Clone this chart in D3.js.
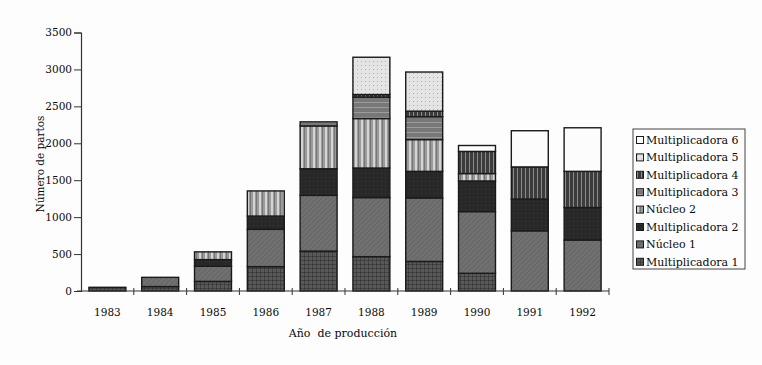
<!DOCTYPE html>
<html>
<head>
<meta charset="utf-8">
<script src="https://cdn.jsdelivr.net/npm/d3@7"></script>
<style>
  html, body { margin: 0; padding: 0; background: #fdfdfd; }
  svg { display: block; }
  text { font-family: "DejaVu Serif", "Liberation Serif", serif; fill: #0a0a0a; }
</style>
</head>
<body>
<svg id="chart" width="762" height="365"></svg>
<script>
// ---- data ----
const years = ["1983","1984","1985","1986","1987","1988","1989","1990","1991","1992"];
const seriesNames = ["Multiplicadora 1","Núcleo 1","Multiplicadora 2","Núcleo 2",
                     "Multiplicadora 3","Multiplicadora 4","Multiplicadora 5","Multiplicadora 6"];
const multiplicadora1 = [50, 60, 130, 330, 540, 465, 400, 240, 0, 0];
const nucleo1         = [0, 125, 205, 505, 755, 800, 860, 835, 815, 690];
const multiplicadora2 = [0, 0, 90, 180, 360, 400, 360, 415, 430, 440];
const nucleo2         = [0, 0, 105, 340, 580, 670, 430, 100, 0, 0];
const multiplicadora3 = [0, 0, 0, 0, 55, 290, 310, 0, 0, 0];
const multiplicadora4 = [0, 0, 0, 0, 0, 35, 75, 300, 435, 490];
const multiplicadora5 = [0, 0, 0, 0, 0, 505, 530, 0, 0, 0];
const multiplicadora6 = [0, 0, 0, 0, 0, 0, 0, 80, 490, 590];
const yTicks = [0, 500, 1000, 1500, 2000, 2500, 3000, 3500];
const xTitle = "Año  de producción";
const yTitle = "Número de partos";

const seriesValues = [multiplicadora1, nucleo1, multiplicadora2, nucleo2,
                      multiplicadora3, multiplicadora4, multiplicadora5, multiplicadora6];
const table = years.map((yr, i) => {
  const row = { year: yr };
  seriesNames.forEach((s, k) => row[s] = seriesValues[k][i]);
  return row;
});

const svg = d3.select("#chart");
const defs = svg.append("defs");

// ---- grayscale textures ----
function pat(id, w, h, bg, draw) {
  const p = defs.append("pattern").attr("id", id).attr("patternUnits", "userSpaceOnUse")
    .attr("width", w).attr("height", h);
  p.append("rect").attr("width", w).attr("height", h).attr("fill", bg);
  draw(p);
}
pat("p0", 4, 4, "#595959", p => {
  p.append("path").attr("d", "M0,0H4M0,0V4").attr("stroke", "#2a2a2a").attr("stroke-width", 1);
});
pat("p1", 5, 5, "#707070", p => {
  p.append("path").attr("d", "M0,5L5,0").attr("stroke", "#606060").attr("stroke-width", 0.8);
});
pat("p2", 4, 4, "#282828", p => {
  p.append("rect").attr("x", 1).attr("y", 1).attr("width", 1).attr("height", 1).attr("fill", "#3a3a3a");
});
pat("p3", 6, 6, "#9a9a9a", p => {
  p.append("rect").attr("x", 1).attr("width", 2).attr("height", 6).attr("fill", "#d4d4d4");
  p.append("rect").attr("x", 4).attr("width", 1).attr("height", 6).attr("fill", "#777");
});
pat("p4", 6, 5, "#787878", p => {
  p.append("rect").attr("y", 2).attr("width", 6).attr("height", 1).attr("fill", "#9c9c9c");
});
pat("p5", 4, 4, "#3c3c3c", p => {
  p.append("rect").attr("x", 1).attr("width", 1).attr("height", 4).attr("fill", "#8a8a8a");
});
pat("p6", 4, 4, "#e4e4e4", p => {
  p.append("rect").attr("x", 1).attr("y", 1).attr("width", 1).attr("height", 1).attr("fill", "#b0b0b0");
});
pat("p7", 4, 4, "#fcfcfc", p => {});

const fillOf = d3.scaleOrdinal().domain(seriesNames).range(seriesNames.map((_, i) => `url(#p${i})`));

// ---- scales ----
const x = d3.scaleBand().domain(years).range([81, 609]).paddingInner(0.3).paddingOuter(0.15);
const y = d3.scaleLinear().domain([0, 3500]).range([291, 32.5]);

const layers = d3.stack().keys(seriesNames)(table);

// ---- bars ----
svg.append("g").selectAll("g").data(layers).join("g")
  .attr("fill", d => fillOf(d.key))
  .selectAll("rect").data(d => d.filter(s => s[1] - s[0] > 0)).join("rect")
  .attr("x", d => x(d.data.year))
  .attr("width", x.bandwidth())
  .attr("y", d => y(d[1]))
  .attr("height", d => y(d[0]) - y(d[1]))
  .attr("stroke", "#1a1a1a")
  .attr("stroke-width", 1.4);

// ---- y axis ----
const yAxis = svg.append("g").attr("transform", "translate(81,0)")
  .call(d3.axisLeft(y).tickValues(yTicks).tickSize(7).tickPadding(2).tickFormat(d3.format("d")));
yAxis.select(".domain").attr("stroke", "#333").attr("stroke-width", 1.2);
yAxis.selectAll(".tick line").attr("stroke", "#333").attr("stroke-width", 1);
yAxis.selectAll(".tick text").style("font-family", "'DejaVu Serif', serif")
  .style("font-size", "10.5px").attr("fill", "#0a0a0a");

// ---- x axis ----
const xg = svg.append("g");
xg.append("line").attr("x1", x.range()[0] - 4).attr("x2", x.range()[1])
  .attr("y1", y(0)).attr("y2", y(0)).attr("stroke", "#333").attr("stroke-width", 1.2);
const boundaryPos = d3.range(1, years.length + 1).map(i => x.range()[0] + i * x.step());
xg.selectAll("line.bt").data(boundaryPos).join("line").attr("class", "bt")
  .attr("x1", d => d).attr("x2", d => d)
  .attr("y1", y(0) - 3).attr("y2", y(0) + 4)
  .attr("stroke", "#333").attr("stroke-width", 1);
xg.selectAll("text").data(years).join("text")
  .attr("x", d => x(d) + x.bandwidth() / 2)
  .attr("y", 316)
  .attr("text-anchor", "middle")
  .style("font-size", "10.5px")
  .text(d => d);

// ---- axis titles ----
svg.append("text").attr("x", 343).attr("y", 337).attr("text-anchor", "middle")
  .style("font-size", "11px").style("white-space", "pre").text(xTitle);
svg.append("text").attr("transform", "translate(43.5,164) rotate(-90)")
  .attr("text-anchor", "middle").style("font-size", "10.5px").text(yTitle);

// ---- legend ----
const lg = svg.append("g");
lg.append("rect").attr("x", 633).attr("y", 129).attr("width", 112).attr("height", 140)
  .attr("fill", "#fdfdfd").attr("stroke", "#444").attr("stroke-width", 1);
const legendOrder = seriesNames.slice().reverse();
const item = lg.selectAll("g.item").data(legendOrder).join("g").attr("class", "item")
  .attr("transform", (d, i) => `translate(0,${140 + i * 17.4})`);
item.append("rect").attr("x", 636.5).attr("y", -3.5).attr("width", 7).attr("height", 7)
  .attr("fill", d => fillOf(d)).attr("stroke", "#1a1a1a").attr("stroke-width", 1);
item.append("text").attr("x", 646).attr("y", 0).attr("dy", "0.35em")
  .style("font-size", "11px").text(d => d);
</script>
</body>
</html>
